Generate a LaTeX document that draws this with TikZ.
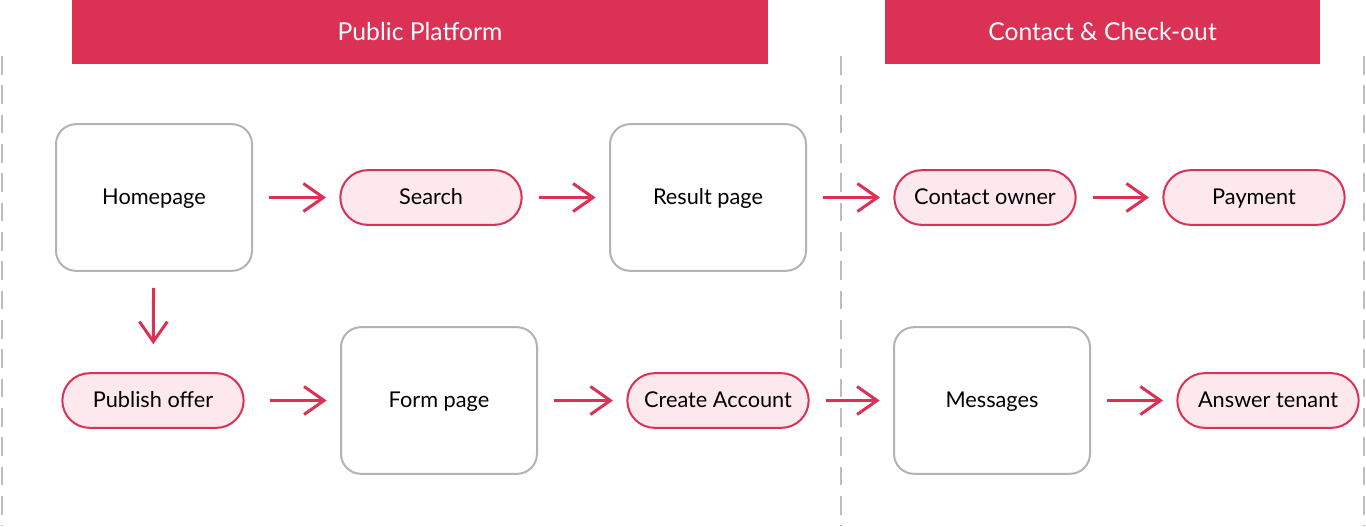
\documentclass[tikz,border=0pt]{standalone}
\usepackage{fontspec}
\setmainfont{Lato}
\usetikzlibrary{arrows.meta}
\definecolor{myred}{RGB}{219,49,85}
\definecolor{mypink}{RGB}{253,232,238}
\definecolor{mygray}{RGB}{179,179,179}
\definecolor{mydash}{RGB}{190,190,190}

\begin{document}
\begin{tikzpicture}[
		x=0.75pt, y=-0.75pt,
		header/.style={rectangle, fill=myred, text=white, minimum width=522pt, minimum height=48pt, inner sep=0pt, font=\fontsize{18.5}{22}\selectfont},
		page/.style={rectangle, draw=mygray, line width=1.5pt, fill=white, minimum width=147pt, minimum height=110pt, rounded corners=15pt, text height=1.05em, text depth=0.05em, font=\fontsize{16.3}{19}\selectfont},
		action/.style={rectangle, draw=myred, line width=1.5pt, fill=mypink, minimum width=136pt, minimum height=41pt, rounded corners=20.5pt, text height=1.05em, text depth=0.05em, font=\fontsize{16.3}{19}\selectfont},
		arrow/.style={draw=myred, line width=2.25pt, -{Straight Barb[length=15pt,width=21pt]}, shorten <=12pt, shorten >=10pt},
		lane/.style={draw=mydash, line width=1.5pt, dash pattern=on 14pt off 8pt}
		]
		
		\useasboundingbox (0,0) rectangle (1366,526);
		
		% Lanes
		\draw[lane] (2,56) -- (2,526);
		\draw[lane] (841,56) -- (841,526);
		\draw[lane] (1364,56) -- (1364,526);
		
		% Headers
		\node[header] (public) at (420,32) {Public Platform};
		\node[header, minimum width=326pt] (contact) at (1102.5,32) {Contact \& Check-out};
		
		% Nodes
		\node[page] (home) at (154,197.5) {Homepage};
		\node[action] (search) at (431,197.5) {Search};
		\node[page] (result) at (708,197.5) {Result page};
		\node[action] (owner) at (985,197.5) {Contact owner};
		\node[action] (payment) at (1254,197.5) {Payment};
		
		\node[action] (publish) at (153,400.5) {Publish offer};
		\node[page] (form) at (439,400.5) {Form page};
		\node[action] (account) at (718,400.5) {Create Account};
		\node[page] (messages) at (992,400.5) {Messages};
		\node[action] (answer) at (1268,400.5) {Answer tenant};
		
		% Arrows
		\draw[arrow] (home) -- (search);
		\draw[arrow] (search) -- (result);
		\draw[arrow] (result) -- (owner);
		\draw[arrow] (owner) -- (payment);
		\draw[arrow, shorten >=21pt] (home) -- (publish);
		\draw[arrow, shorten <=19pt] (publish) -- (form);
		\draw[arrow] (form) -- (account);
		\draw[arrow] (account) -- (messages);
		\draw[arrow] (messages) -- (answer);
		
	\end{tikzpicture}
\end{document}
